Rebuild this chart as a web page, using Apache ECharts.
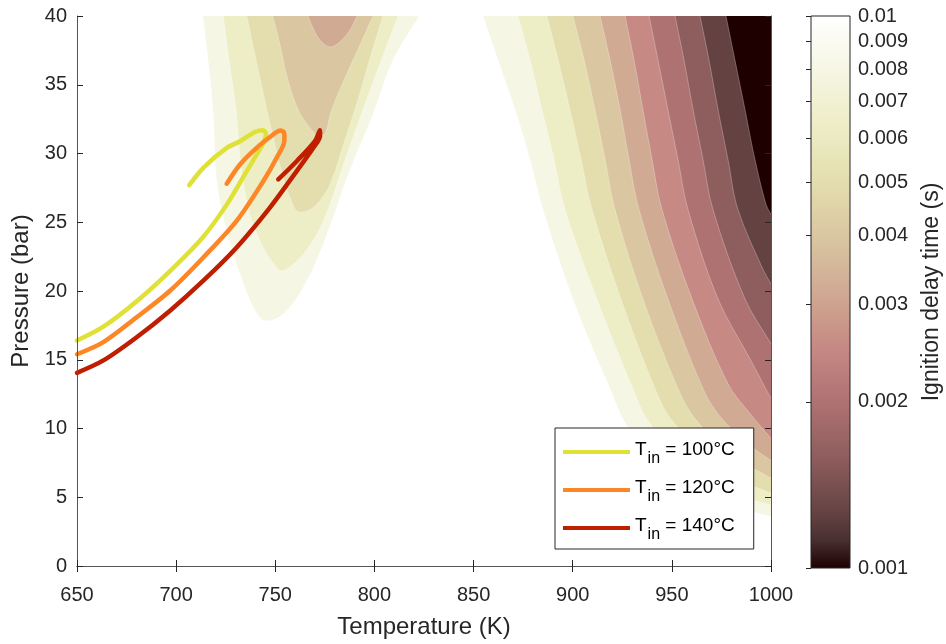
<!DOCTYPE html>
<html>
<head>
<meta charset="utf-8">
<script src="https://cdn.jsdelivr.net/npm/echarts@6/dist/echarts.min.js"></script>
<style>
html,body{margin:0;padding:0;background:#ffffff;}
#chart{width:946px;height:644px;}
</style>
</head>
<body>
<div id="chart"></div>
<script>
// ---- axes -------------------------------------------------------------
const tempRange = [650, 1000];          // K
const pressureRange = [0, 40];          // bar
const delayTickValues = [0.001, 0.002, 0.003, 0.004, 0.005, 0.006, 0.007, 0.008, 0.009, 0.01];
const delayTickLabels = ['0.001', '0.002', '0.003', '0.004', '0.005', '0.006', '0.007', '0.008', '0.009', '0.01'];

// ---- ignition delay contour levels (s), log-spaced ----------------------
const contourLevels = [0.00126, 0.00158, 0.00200, 0.00251, 0.00316, 0.00398, 0.00501, 0.00631, 0.00794, 0.0100];

// "pink" colour map, position along the log colour axis -> colour
const pinkStops = [
  [0.00, '#1e0000'], [0.05, '#472f2f'], [0.10, '#654242'], [0.20, '#8e5d5d'],
  [0.30, '#ae7272'], [0.40, '#c68984'], [0.50, '#d0aa93'], [0.60, '#dac6a1'],
  [0.70, '#e4deae'], [0.80, '#ededc6'], [0.90, '#f6f6e4'], [1.00, '#ffffff']
];

// ---- contour lines of the low-temperature lobe: [T (K), P (bar)] -------
const lobe_0100 = [[713.5,40],[716.1,36.81],[718.6,33.19],[720.5,27.99],[725.5,24.37],[732.2,21.23],[738.9,18.82],[744.8,17.85],[754.0,18.33],[764.1,20.27],[774.2,23.41],[787.7,28.84],[798.8,32.68],[809.4,36.81],[822.5,40]];
const lobe_0079 = [[723.8,40],[726.7,36.81],[730.2,33.19],[732.7,29.20],[737.2,25.58],[744.0,23.17],[750.7,21.72],[754.0,21.47],[764.1,22.68],[774.2,25.09],[786.1,29.93],[798.8,35.00],[811.9,40]];
const lobe_0063 = [[735.6,40],[740.3,36.81],[745.7,33.19],[750.4,30.29],[753.9,28.33],[757.4,26.81],[760.8,25.82],[765.5,25.80],[770.9,26.30],[777.6,27.75],[785.2,31.01],[791.7,33.91],[798.3,37.17],[804.3,40]];
const lobe_0050 = [[748.7,40],[752.4,37.90],[755.9,35.58],[761.5,33.19],[767.0,31.96],[771.5,31.30],[775.1,31.45],[778.1,33.04],[785.2,35.51],[793.2,38.04],[799.3,40]];
const lobe_0040 = [[766.5,40],[769.0,39.13],[772.5,38.26],[777.6,37.75],[782.6,38.12],[787.7,38.99],[791.2,40]];

// ---- contour lines of the high-temperature region ------------------------
const hot_0100 = [[854.8,40],[862.3,36.81],[870.9,33.19],[878.5,29.57],[885.0,25.94],[900.1,19.42],[918.8,12.90],[927.4,10.22],[946.5,7.10],[971.8,4.71],[1000,3.62]];
const hot_0079 = [[872.4,40],[878.5,36.81],[884.5,33.19],[890.6,29.57],[896.1,25.94],[912.2,19.42],[930.4,12.90],[939.0,10.36],[959.2,7.46],[981.8,5.29],[1000,4.42]];
const hot_0063 = [[887.0,40],[892.6,36.81],[898.6,33.19],[904.2,29.57],[909.7,25.94],[924.3,19.42],[941.5,12.90],[950.1,10.58],[969.2,7.83],[986.9,6.09],[1000,5.29]];
const hot_0050 = [[900.1,40],[905.7,36.81],[911.2,33.19],[916.3,29.57],[921.3,25.94],[935.4,19.42],[953.1,12.90],[961.7,10.72],[979.3,8.19],[1000,6.38]];
const hot_0040 = [[913.8,40],[918.8,36.81],[923.9,33.19],[928.4,29.57],[933.4,25.94],[948.0,19.42],[965.7,12.90],[974.3,10.87],[989.4,8.77],[1000,7.68]];
const hot_0032 = [[926.4,40],[930.9,36.81],[935.4,33.19],[940.0,29.57],[945.0,25.94],[960.2,19.42],[978.3,13.26],[989.4,11.09],[1000,9.28]];
const hot_0025 = [[938.5,40],[943.0,36.81],[948.0,33.19],[953.1,29.57],[958.1,25.94],[973.3,19.42],[989.4,15.07],[1000,12.17]];
const hot_0020 = [[951.6,40],[956.1,36.81],[960.7,33.19],[965.7,29.57],[970.7,25.94],[986.9,19.42],[1000,16.16]];
const hot_0016 = [[964.2,40],[968.7,36.81],[973.3,33.19],[978.3,29.57],[983.3,25.94],[995.9,21.59],[1000,20.51]];
const hot_0013 = [[977.3,40],[981.8,36.81],[986.9,33.19],[991.9,29.57],[997.5,26.30],[1000,25.58]];

// ---- compression trajectories for three inlet temperatures -------------
const inletTemps = ['100°C', '120°C', '140°C'];
const traj100 = [[650,16.40],[663.1,17.39],[680.3,19.28],[696.9,21.45],[713.5,23.91],[725.6,26.30],[735.6,28.72],[740.6,29.93],[744.0,30.77],[745.3,31.42],[743.6,31.69],[739.8,31.57],[732.2,30.89],[725.5,30.41],[713.7,28.96],[706.6,27.70]];
const traj120 = [[650,15.40],[663.3,16.28],[680.1,18.09],[696.9,20.02],[713.7,22.44],[730.5,25.10],[744.0,28.00],[750.7,29.69],[754.6,30.95],[754.5,31.50],[752.5,31.68],[749.0,31.38],[740.6,30.41],[732.2,29.20],[725.5,27.80]];
const traj140 = [[650,14.05],[663.3,14.95],[680.1,16.64],[696.9,18.57],[713.7,20.75],[730.5,23.17],[747.3,26.07],[760.8,28.72],[769.2,30.41],[772.6,31.30],[772.5,31.70],[770.0,30.90],[760.8,29.44],[751.5,28.12]];
const trajColors = ['#dfe137', '#fd8626', '#c01e00'];

// ------------------------------------------------------------------------
const FONT = "'Liberation Sans', Arial, Helvetica, sans-serif";
const INK = '#262626';

// band colour of the region below a given level
function bandColor(level) {
  const i = contourLevels.indexOf(level);
  const t = i / 10;
  const hit = pinkStops.find(s => Math.abs(s[0] - t) < 1e-9);
  return hit[1];
}

// fills drawn from the outermost (longest delay) inward
const fills = [
  { kind: 'lobe', pts: lobe_0100, level: 0.0100 },
  { kind: 'lobe', pts: lobe_0079, level: 0.00794 },
  { kind: 'lobe', pts: lobe_0063, level: 0.00631 },
  { kind: 'lobe', pts: lobe_0050, level: 0.00501 },
  { kind: 'lobe', pts: lobe_0040, level: 0.00398 },
  { kind: 'hot', pts: hot_0100, level: 0.0100 },
  { kind: 'hot', pts: hot_0079, level: 0.00794 },
  { kind: 'hot', pts: hot_0063, level: 0.00631 },
  { kind: 'hot', pts: hot_0050, level: 0.00501 },
  { kind: 'hot', pts: hot_0040, level: 0.00398 },
  { kind: 'hot', pts: hot_0032, level: 0.00316 },
  { kind: 'hot', pts: hot_0025, level: 0.00251 },
  { kind: 'hot', pts: hot_0020, level: 0.00200 },
  { kind: 'hot', pts: hot_0016, level: 0.00158 },
  { kind: 'hot', pts: hot_0013, level: 0.00126 }
];

// push a point outward along the direction b -> a
function extend(a, b, len) {
  const dx = a[0] - b[0], dy = a[1] - b[1];
  const d = Math.hypot(dx, dy) || 1;
  return [a[0] + dx / d * len, a[1] + dy / d * len];
}

function renderFill(params, api) {
  const f = fills[api.value(2)];
  const cs = params.coordSys;
  const pts = f.pts.map(p => api.coord(p));
  const n = pts.length;
  const head = extend(pts[0], pts[1], 40);
  const tail = extend(pts[n - 1], pts[n - 2], 40);
  const far = cs.y - 150;
  let ring;
  if (f.kind === 'lobe') {
    ring = [[head[0], far], head].concat(pts, [tail, [tail[0], far]]);
  } else {
    const farX = cs.x + cs.width + 150;
    ring = [[head[0], far], head].concat(pts, [tail, [farX, tail[1]], [farX, far]]);
  }
  return {
    type: 'polygon',
    shape: { points: ring, smooth: 0.35 },
    style: { fill: bandColor(f.level), stroke: 'rgba(255,255,255,0.35)', lineWidth: 0.8 }
  };
}

function renderColorbar(params, api) {
  const top = api.coord([0, Math.log10(delayTickValues[delayTickValues.length - 1])]);
  const bottom = api.coord([1, Math.log10(delayTickValues[0])]);
  return {
    type: 'rect',
    shape: { x: top[0], y: top[1], width: bottom[0] - top[0], height: bottom[1] - top[1] },
    style: {
      fill: new echarts.graphic.LinearGradient(0, 1, 0, 0,
        pinkStops.map(s => ({ offset: s[0], color: s[1] }))),
      stroke: INK, lineWidth: 1
    }
  };
}

const logTicks = delayTickValues.map(v => Math.log10(v));
function delayLabel(v) {
  const i = logTicks.findIndex(t => Math.abs(t - v) < 1e-6);
  return i >= 0 ? delayTickLabels[i] : '';
}

const frameAxis = {
  axisLine: { show: true, lineStyle: { color: '#555', width: 1 } },
  axisTick: { show: true, inside: true, length: 6, lineStyle: { color: INK } },
  splitLine: { show: false },
  z: 10
};

const chart = echarts.init(document.getElementById('chart'), null, { renderer: 'canvas' });

chart.setOption({
  animation: false,
  backgroundColor: '#ffffff',
  textStyle: { fontFamily: FONT },
  grid: [
    { left: 77, top: 16, width: 694, height: 552, show: false },
    { left: 811, top: 16, width: 39, height: 552, show: false }
  ],
  xAxis: [
    Object.assign({}, frameAxis, {
      type: 'value', gridIndex: 0, position: 'bottom',
      min: tempRange[0], max: tempRange[1], interval: 50,
      name: 'Temperature (K)', nameLocation: 'middle', nameGap: 49,
      nameTextStyle: { fontSize: 24, color: INK, fontFamily: FONT },
      axisLabel: { fontSize: 20, color: INK, margin: 19, fontFamily: FONT, formatter: v => String(v) }
    }),
    Object.assign({}, frameAxis, {
      type: 'value', gridIndex: 0, position: 'top',
      min: tempRange[0], max: tempRange[1], interval: 50,
      axisLabel: { show: false }
    }),
    { type: 'value', gridIndex: 1, min: 0, max: 1, show: false }
  ],
  yAxis: [
    Object.assign({}, frameAxis, {
      type: 'value', gridIndex: 0, position: 'left',
      min: pressureRange[0], max: pressureRange[1], interval: 5,
      name: 'Pressure (bar)', nameLocation: 'middle', nameGap: 41, nameRotate: 90,
      nameTextStyle: { fontSize: 24, color: INK, fontFamily: FONT },
      axisLabel: { fontSize: 20, color: INK, margin: 10, fontFamily: FONT }
    }),
    Object.assign({}, frameAxis, {
      type: 'value', gridIndex: 0, position: 'right',
      min: pressureRange[0], max: pressureRange[1], interval: 5,
      axisLabel: { show: false }
    }),
    {
      type: 'value', gridIndex: 1, position: 'right',
      min: logTicks[0], max: logTicks[logTicks.length - 1],
      z: 10,
      axisLine: { show: false },
      splitLine: { show: false },
      axisTick: { show: true, inside: true, length: 5, customValues: logTicks, lineStyle: { color: INK } },
      axisLabel: { show: true, customValues: logTicks, formatter: delayLabel, fontSize: 20, color: INK, margin: 8, fontFamily: FONT },
      name: 'Ignition delay time (s)', nameLocation: 'middle', nameRotate: 90, nameGap: 70,
      nameTextStyle: { fontSize: 23, color: INK, fontFamily: FONT }
    }
  ],
  legend: {
    orient: 'vertical',
    left: 555, top: 428,
    padding: [9, 19, 6, 8],
    itemGap: 8,
    itemWidth: 67, itemHeight: 4,
    icon: 'rect',
    selectedMode: false,
    backgroundColor: '#ffffff',
    borderColor: INK, borderWidth: 1, borderRadius: 0,
    data: inletTemps,
    formatter: name => '{t|T}{s|in}{t| = ' + name + '}',
    textStyle: {
      fontFamily: FONT,
      rich: {
        t: { fontSize: 19, lineHeight: 30, verticalAlign: 'top', padding: [3.6, 0, 0, 0], color: '#000', fontFamily: FONT },
        s: { fontSize: 16, verticalAlign: 'bottom', padding: [0, 0, 0, 1], color: '#000', fontFamily: FONT }
      }
    }
  },
  series: [
    {
      type: 'custom', name: 'contours', xAxisIndex: 0, yAxisIndex: 0,
      clip: true, z: 1, silent: true,
      renderItem: renderFill,
      data: fills.map((f, i) => [f.pts[0][0], f.pts[0][1], i])
    },
    {
      type: 'custom', name: 'colorbar', xAxisIndex: 2, yAxisIndex: 2,
      z: 1, silent: true,
      renderItem: renderColorbar,
      data: [[0, logTicks[0]]]
    }
  ].concat([traj100, traj120, traj140].map((d, i) => ({
    type: 'line', name: inletTemps[i], xAxisIndex: 0, yAxisIndex: 0,
    data: d, smooth: 0.3, symbol: 'none', z: 5, clip: true,
    lineStyle: { width: 4.5, color: trajColors[i], cap: 'round', join: 'round' },
    itemStyle: { color: trajColors[i] }
  })))
});
</script>
</body>
</html>
